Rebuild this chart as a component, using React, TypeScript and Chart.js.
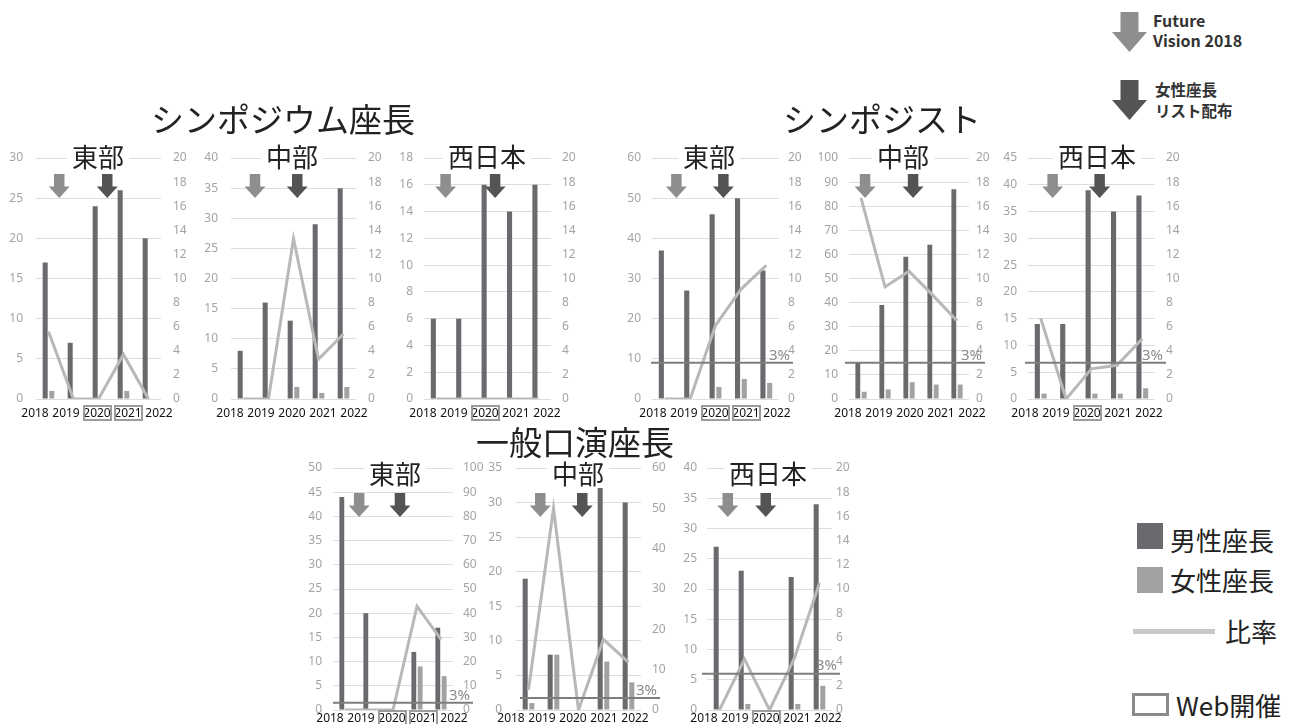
import React, { useEffect, useRef } from "react";
import { Chart, registerables } from "chart.js";

Chart.register(...registerables);

// ---- data ----
const years = ["2018", "2019", "2020", "2021", "2022"];
const TARGET = 3; // 目標比率 (%)

// シンポジウム座長
const symEastMale = [17, 7, 24, 26, 20];
const symEastFemale = [1, 0, 0, 1, 0];
const symEastRatio = [5.6, 0, 0, 3.7, 0];
const symCentralMale = [8, 16, 13, 29, 35];
const symCentralFemale = [0, 0, 2, 1, 2];
const symCentralRatio = [0, 0, 13.3, 3.3, 5.4];
const symWestMale = [6, 6, 16, 14, 16];
const symWestFemale = [0, 0, 0, 0, 0];
const symWestRatio = [0, 0, 0, 0, 0];

// シンポジスト
const spkEastMale = [37, 27, 46, 50, 32];
const spkEastFemale = [0, 0, 3, 5, 4];
const spkEastRatio = [0, 0, 6.1, 9.1, 11.1];
const spkCentralMale = [15, 39, 59, 64, 87];
const spkCentralFemale = [3, 4, 7, 6, 6];
const spkCentralRatio = [16.7, 9.3, 10.6, 8.6, 6.5];
const spkWestMale = [14, 14, 39, 35, 38];
const spkWestFemale = [1, 0, 1, 1, 2];
const spkWestRatio = [6.7, 0, 2.5, 2.8, 5.0];

// 一般口演座長
const oralEastMale = [44, 20, 0, 12, 17];
const oralEastFemale = [0, 0, 0, 9, 7];
const oralEastRatio = [0, 0, 0, 42.9, 29.2];
const oralCentralMale = [19, 8, 0, 33, 30];
const oralCentralFemale = [1, 8, 0, 7, 4];
const oralCentralRatio = [5.0, 50.0, 0, 17.5, 11.8];
const oralWestMale = [27, 23, 0, 22, 34];
const oralWestFemale = [0, 1, 0, 1, 4];
const oralWestRatio = [0, 4.2, 0, 4.3, 10.5];

// Web開催の年
const webEast = ["2020", "2021"];
const webWest = ["2020"];
const webNone: string[] = [];

// ---- styles ----
const MALE_COLOR = "#6a6a6e";
const FEMALE_COLOR = "#a2a2a2";
const RATIO_COLOR = "#b8b8b8";
const TARGET_COLOR = "#7e7e7e";
const GRID_COLOR = "#dddddd";
const TICK_COLOR = "#a4a4a4";
const FV_COLOR = "#8e8e8e";
const LIST_COLOR = "#545454";
const TEXT_COLOR = "#222222";
const JP_FONT = '"Noto Sans CJK JP", "Noto Sans", sans-serif';
const NUM_FONT = '"Noto Sans", "DejaVu Sans", sans-serif';

const LEFT_W = 36;
const RIGHT_W = 45;
const PAD = 12;

const ROWS = [
  { top: 158, bottom: 399, titleY: 156, arrowTop: 16, yearsY: 413 },
  { top: 468, bottom: 710, titleY: 473, arrowTop: 25, yearsY: 718 },
];

type Panel = {
  title: string;
  male: number[];
  female: number[];
  ratio: number[];
  leftMax: number;
  leftStep: number;
  rightMax: number;
  rightStep: number;
  web: string[];
  target: boolean;
  row: number;
  plot: [number, number];
  pads: [number, number];
  titleX: number;
  yearsX: number;
  fvAt: number;
  listAt: number;
  lineExt: [number, number];
};

const panels: Panel[] = [
  { title: "東部", male: symEastMale, female: symEastFemale, ratio: symEastRatio, leftMax: 30, leftStep: 5, rightMax: 20, rightStep: 2, web: webEast, target: false, row: 0, plot: [36, 161], pads: [13, 12], titleX: 98, yearsX: 97, fvAt: 0.43, listAt: 2.35, lineExt: [0, 0] },
  { title: "中部", male: symCentralMale, female: symCentralFemale, ratio: symCentralRatio, leftMax: 40, leftStep: 5, rightMax: 20, rightStep: 2, web: webNone, target: false, row: 0, plot: [231, 356], pads: [13, 12], titleX: 292, yearsX: 292, fvAt: 0.46, listAt: 2.15, lineExt: [0, 0] },
  { title: "西日本", male: symWestMale, female: symWestFemale, ratio: symWestRatio, leftMax: 18, leftStep: 2, rightMax: 20, rightStep: 2, web: webWest, target: false, row: 0, plot: [424, 551], pads: [11, 11], titleX: 487, yearsX: 485, fvAt: 0.35, listAt: 2.3, lineExt: [0, 0] },
  { title: "東部", male: spkEastMale, female: spkEastFemale, ratio: spkEastRatio, leftMax: 60, leftStep: 10, rightMax: 20, rightStep: 2, web: webEast, target: true, row: 0, plot: [652, 779], pads: [11, 9], titleX: 709, yearsX: 715, fvAt: 0.46, listAt: 2.31, lineExt: [-1, 14] },
  { title: "中部", male: spkCentralMale, female: spkCentralFemale, ratio: spkCentralRatio, leftMax: 100, leftStep: 10, rightMax: 20, rightStep: 2, web: webNone, target: true, row: 0, plot: [849, 969], pads: [11, 7], titleX: 903, yearsX: 910, fvAt: 0.17, listAt: 2.17, lineExt: [-4, 16] },
  { title: "西日本", male: spkWestMale, female: spkWestFemale, ratio: spkWestRatio, leftMax: 45, leftStep: 5, rightMax: 20, rightStep: 2, web: webWest, target: true, row: 0, plot: [1028, 1155], pads: [11, 11], titleX: 1097, yearsX: 1087, fvAt: 0.47, listAt: 2.32, lineExt: [-3, 11] },
  { title: "東部", male: oralEastMale, female: oralEastFemale, ratio: oralEastRatio, leftMax: 50, leftStep: 5, rightMax: 100, rightStep: 10, web: webEast, target: true, row: 1, plot: [333, 453], pads: [11, 10], titleX: 395, yearsX: 392, fvAt: 0.59, listAt: 2.29, lineExt: [0, 20] },
  { title: "中部", male: oralCentralMale, female: oralCentralFemale, ratio: oralCentralRatio, leftMax: 35, leftStep: 5, rightMax: 60, rightStep: 10, web: webNone, target: true, row: 1, plot: [516, 641], pads: [14, 11], titleX: 578, yearsX: 573, fvAt: 0.47, listAt: 2.15, lineExt: [4, 19] },
  { title: "西日本", male: oralWestMale, female: oralWestFemale, ratio: oralWestRatio, leftMax: 40, leftStep: 5, rightMax: 20, rightStep: 2, web: webWest, target: true, row: 1, plot: [707, 832], pads: [10, 4], titleX: 768, yearsX: 766, fvAt: 0.33, listAt: 1.85, lineExt: [-5, 8] },
];

function drawArrow(ctx: CanvasRenderingContext2D, cx: number, top: number, w: number, h: number, color: string) {
  const sw = w * 0.5;
  const sh = h * 0.52;
  ctx.beginPath();
  ctx.moveTo(cx - sw / 2, top);
  ctx.lineTo(cx + sw / 2, top);
  ctx.lineTo(cx + sw / 2, top + sh);
  ctx.lineTo(cx + w / 2, top + sh);
  ctx.lineTo(cx, top + h);
  ctx.lineTo(cx - w / 2, top + sh);
  ctx.lineTo(cx - sw / 2, top + sh);
  ctx.closePath();
  ctx.fillStyle = color;
  ctx.fill();
}

// target line, its label and the two milestone arrows
function makeOverlay(p: Panel) {
  const row = ROWS[p.row];
  return {
    id: "overlay",
    afterDatasetsDraw(chart: any) {
      const { ctx, chartArea, scales } = chart;
      ctx.save();
      if (p.target) {
        const yy = scales.y1.getPixelForValue(TARGET);
        const x0 = chartArea.left + p.lineExt[0];
        const x1 = chartArea.right + p.lineExt[1];
        ctx.strokeStyle = TARGET_COLOR;
        ctx.lineWidth = 2;
        ctx.beginPath();
        ctx.moveTo(x0, yy);
        ctx.lineTo(x1, yy);
        ctx.stroke();
        ctx.font = `15px ${NUM_FONT}`;
        ctx.fillStyle = "#8a8a8a";
        ctx.textAlign = "right";
        ctx.textBaseline = "bottom";
        ctx.fillText(`${TARGET}%`, x1 - 3, yy);
      }
      const top = chartArea.top + row.arrowTop;
      drawArrow(ctx, scales.x.getPixelForValue(p.fvAt), top, 21, 24, FV_COLOR);
      drawArrow(ctx, scales.x.getPixelForValue(p.listAt), top, 21, 24, LIST_COLOR);
      ctx.restore();
    },
  };
}

// fixed axis widths and no extra label padding, so the plot area lands exactly
function fixAxis(width: number) {
  return (s: any) => {
    s.width = width;
    s.paddingTop = 0;
    s.paddingBottom = 0;
  };
}

function PanelChart({ p }: { p: Panel }) {
  const ref = useRef<HTMLCanvasElement>(null);
  const row = ROWS[p.row];
  const width = LEFT_W + (p.plot[1] - p.plot[0]) + RIGHT_W;
  const height = row.bottom - row.top + PAD * 2;

  useEffect(() => {
    const tickFont = { family: NUM_FONT, size: 12 };
    const chart = new Chart(ref.current as HTMLCanvasElement, {
      type: "bar",
      data: {
        labels: years,
        datasets: [
          {
            type: "line",
            label: "比率",
            data: p.ratio,
            yAxisID: "y1",
            borderColor: RATIO_COLOR,
            borderWidth: 3,
            pointRadius: 0,
            tension: 0,
            order: 0,
          } as any,
          {
            type: "bar",
            label: "男性座長",
            data: p.male,
            yAxisID: "y",
            backgroundColor: MALE_COLOR,
            borderWidth: 0,
            categoryPercentage: 0.53,
            barPercentage: 0.76,
            order: 1,
          },
          {
            type: "bar",
            label: "女性座長",
            data: p.female,
            yAxisID: "y",
            backgroundColor: FEMALE_COLOR,
            borderWidth: 0,
            categoryPercentage: 0.53,
            barPercentage: 0.76,
            order: 1,
          },
        ],
      },
      options: {
        responsive: false,
        animation: false,
        devicePixelRatio: 1,
        layout: { padding: { top: PAD, bottom: PAD, left: 0, right: 0 } },
        plugins: { legend: { display: false }, tooltip: { enabled: false } },
        scales: {
          x: { display: false, offset: true },
          y: {
            position: "left",
            min: 0,
            max: p.leftMax,
            ticks: { stepSize: p.leftStep, padding: p.pads[0], color: TICK_COLOR, font: tickFont },
            grid: { color: GRID_COLOR, lineWidth: 1, drawTicks: false },
            border: { display: false },
            afterFit: fixAxis(LEFT_W),
          },
          y1: {
            position: "right",
            min: 0,
            max: p.rightMax,
            ticks: { stepSize: p.rightStep, padding: p.pads[1], color: TICK_COLOR, font: tickFont },
            grid: { display: false, drawTicks: false },
            border: { display: false },
            afterFit: fixAxis(RIGHT_W),
          },
        },
      } as any,
      plugins: [makeOverlay(p)],
    });
    return () => chart.destroy();
  }, [p]);

  return (
    <canvas
      ref={ref}
      width={width}
      height={height}
      style={{ position: "absolute", left: p.plot[0] - LEFT_W, top: row.top - PAD, width, height }}
    />
  );
}

function PanelLabels({ p }: { p: Panel }) {
  const row = ROWS[p.row];
  return (
    <>
      <div
        style={{
          position: "absolute",
          left: p.titleX,
          top: row.titleY - 15,
          transform: "translateX(-50%)",
          fontSize: 26,
          lineHeight: "30px",
          background: "#fff",
          padding: "0 5px",
          color: TEXT_COLOR,
          whiteSpace: "nowrap",
        }}
      >
        {p.title}
      </div>
      {years.map((yr, i) => {
        const cx = p.yearsX + (i - 2) * 31;
        return (
          <React.Fragment key={yr}>
            <div
              style={{
                position: "absolute",
                left: cx - 20,
                width: 40,
                top: row.yearsY - 8,
                lineHeight: "16px",
                fontSize: 12,
                fontFamily: NUM_FONT,
                textAlign: "center",
                color: "#111",
              }}
            >
              {yr}
            </div>
            {p.web.includes(yr) && (
              <div
                style={{
                  position: "absolute",
                  left: cx - 14.5,
                  top: row.yearsY - 8,
                  width: 29,
                  height: 16,
                  boxSizing: "border-box",
                  border: "2px solid #9c9c9c",
                }}
              />
            )}
          </React.Fragment>
        );
      })}
    </>
  );
}

function ArrowIcon({ left, top, color }: { left: number; top: number; color: string }) {
  return (
    <svg width={35} height={40} style={{ position: "absolute", left, top }}>
      <polygon points="8.5,0 26.5,0 26.5,20 35,20 17.5,40 0,20 8.5,20" fill={color} />
    </svg>
  );
}

const groupTitles = [
  { text: "シンポジウム座長", x: 283, y: 100 },
  { text: "シンポジスト", x: 882, y: 100 },
  { text: "一般口演座長", x: 575, y: 423 },
];

export default function App() {
  return (
    <div
      style={{
        position: "fixed",
        left: 0,
        top: 0,
        width: 1309,
        height: 724,
        background: "#fff",
        overflow: "hidden",
        fontFamily: JP_FONT,
        color: TEXT_COLOR,
      }}
    >
      {panels.map((p, i) => (
        <PanelChart key={i} p={p} />
      ))}
      {panels.map((p, i) => (
        <PanelLabels key={"l" + i} p={p} />
      ))}
      {groupTitles.map((g) => (
        <div
          key={g.text}
          style={{
            position: "absolute",
            left: g.x - 200,
            width: 400,
            top: g.y,
            fontSize: 33,
            lineHeight: "36px",
            textAlign: "center",
          }}
        >
          {g.text}
        </div>
      ))}

      {/* milestone key */}
      <ArrowIcon left={1112} top={12} color={FV_COLOR} />
      <div style={{ position: "absolute", left: 1153, top: 10, fontSize: 16, lineHeight: "20px", fontWeight: 700, color: "#333" }}>
        Future
        <br />
        Vision 2018
      </div>
      <ArrowIcon left={1112} top={80} color={LIST_COLOR} />
      <div style={{ position: "absolute", left: 1155, top: 79, fontSize: 15.5, lineHeight: "21px", fontWeight: 700, color: "#333" }}>
        女性座長
        <br />
        リスト配布
      </div>

      {/* series key */}
      <div style={{ position: "absolute", left: 1137, top: 523, width: 26, height: 26, background: MALE_COLOR }} />
      <div style={{ position: "absolute", left: 1170, top: 525, fontSize: 26, lineHeight: "30px" }}>男性座長</div>
      <div style={{ position: "absolute", left: 1137, top: 567, width: 26, height: 26, background: FEMALE_COLOR }} />
      <div style={{ position: "absolute", left: 1170, top: 565, fontSize: 26, lineHeight: "30px" }}>女性座長</div>
      <div style={{ position: "absolute", left: 1133, top: 629, width: 82, height: 5, background: "#c8c8c8" }} />
      <div style={{ position: "absolute", left: 1225, top: 616, fontSize: 26, lineHeight: "30px" }}>比率</div>
      <div
        style={{
          position: "absolute",
          left: 1132,
          top: 693,
          width: 37,
          height: 23,
          boxSizing: "border-box",
          border: "3px solid #8a8a8a",
        }}
      />
      <div style={{ position: "absolute", left: 1176, top: 690, fontSize: 26, lineHeight: "30px" }}>Web開催</div>
    </div>
  );
}
